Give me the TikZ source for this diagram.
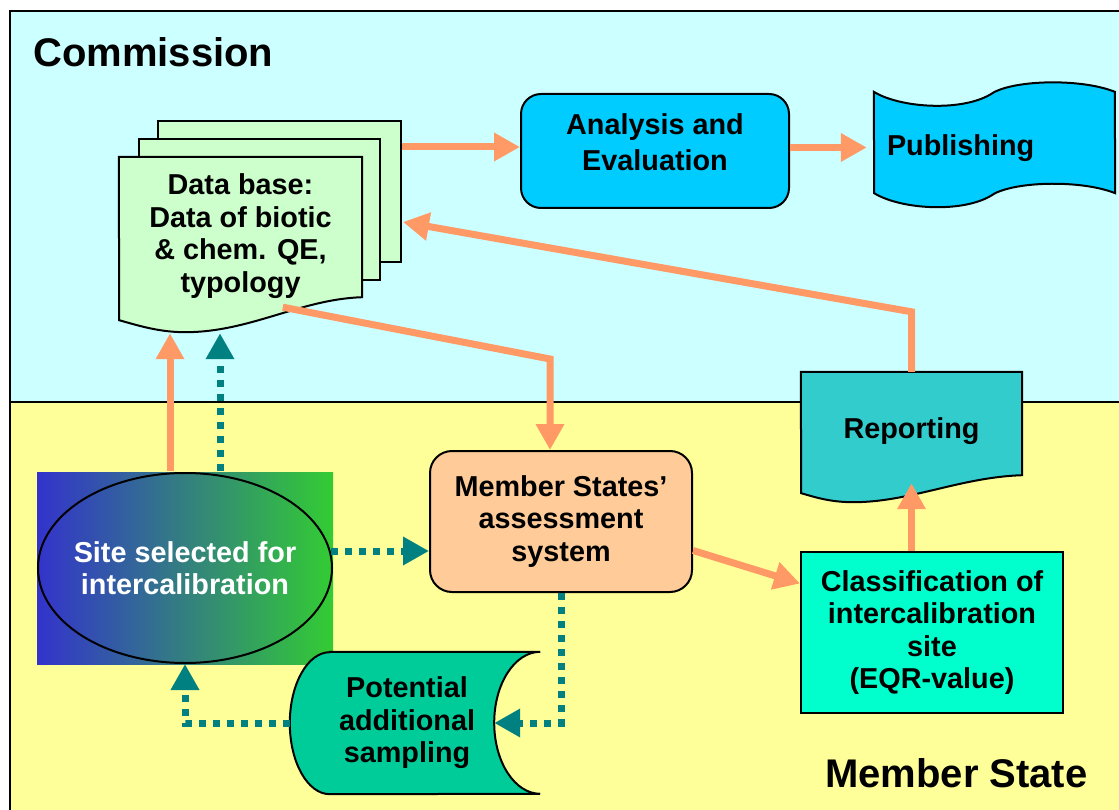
\documentclass[tikz,border=0pt]{standalone}
\usepackage{fontspec}
\setmainfont{Liberation Sans}
\usetikzlibrary{arrows.meta,positioning,calc,shapes.geometric,backgrounds}
\definecolor{commcolor}{RGB}{204,255,255}
\definecolor{mscolor}{RGB}{255,255,153}
\definecolor{dbcolor}{RGB}{204,255,204}
\definecolor{evalcolor}{RGB}{0,204,255}
\definecolor{assesscolor}{RGB}{255,204,153}
\definecolor{reportcolor}{RGB}{51,204,204}
\definecolor{classcolor}{RGB}{0,255,204}
\definecolor{samplecolor}{RGB}{0,204,153}
\definecolor{flowcolor}{RGB}{255,153,102}
\definecolor{dotcolor}{RGB}{0,128,128}
\definecolor{siteblue}{RGB}{51,51,204}
\definecolor{sitegreen}{RGB}{51,204,51}

\begin{document}
\begin{tikzpicture}[
    x=1pt, y=-1pt,
    module/.style={font=\fontsize{28.8}{32.5}\selectfont\bfseries, align=center, inner sep=0pt},
    box/.style={module, draw, line width=2pt},
    sheet/.style={draw, line width=2pt, fill=dbcolor, inner sep=0pt},
    shapeline/.style={draw, line width=2pt},
    arrow/.style={-{Triangle[length=26pt,width=27pt]}, line width=7pt, flowcolor},
    dotarrow/.style={-{Triangle[length=26pt,width=27pt]}, line width=7pt, dotcolor, dash pattern=on 7pt off 7pt},
    region/.style={font=\fontsize{40}{44}\selectfont\bfseries, anchor=base west, inner sep=0pt}
]
\useasboundingbox (0,0) rectangle (1119,810);

% Regions: Commission (top) and Member State (bottom)
\begin{scope}[on background layer]
\fill[commcolor] (10,11) rectangle (1135,402);
\fill[mscolor] (10,402) rectangle (1135,825);
\draw[line width=2.5pt] (10,11) rectangle (1135,825);
\draw[line width=2pt] (10,402) -- (1135,402);
\end{scope}
\node[region] (commission) at (33,67) {Commission};
\node[region] (memberstate) at (825,787) {Member State};

% Row 1: Data base, Analysis, Publishing
\node[module, minimum width=243pt, minimum height=158pt] (database) at (240.5,236) {Data base:\\Data of biotic\\\& chem. QE,\\typology};
\begin{scope}[on background layer]
\node[sheet, minimum width=243pt, minimum height=141pt] (sheet3) at (279.5,191.5) {};
\node[sheet, minimum width=241pt, minimum height=141pt] (sheet2) at (259.5,209.5) {};
\draw[shapeline, fill=dbcolor] (database.north west) -- (database.north east) -- ([yshift=18pt]database.south east)
    .. controls +(-62,2) and +(65,0) .. ++(-177,35) .. controls +(-25,0) and +(21,6) .. ++(-66,-12) -- cycle;
\end{scope}

\node[box, fill=evalcolor, rounded corners=20pt, minimum width=268pt, minimum height=114pt, text depth=18pt] (analysis) at (655,151) {Analysis and\\[4pt]Evaluation};

\node[module, minimum width=241pt, minimum height=101pt, text width=215pt, align=left, text height=27pt, text depth=0pt] (publish) at (994.5,142.5) {Publishing};
\begin{scope}[on background layer]
\draw[shapeline, fill=evalcolor] (publish.north west) .. controls +(26,16) and +(-30,17) .. ++(116,3)
    .. controls +(20,-15) and +(-35,-14) .. ++(125,-3) -- (publish.south east)
    .. controls +(-35,-14) and +(20,-15) .. ++(-125,3) .. controls +(-30,17) and +(26,16) .. ++(-116,-3) -- cycle;
\end{scope}

% Row 2: Site, Member States' system, Reporting
\node[module, ellipse, draw, line width=2pt, inner xsep=-8pt, minimum width=294pt, minimum height=190pt, text=white] (site) at (185,568) {Site selected for\\intercalibration};
\begin{scope}[on background layer]
\shade[left color=siteblue, right color=sitegreen] (site.west |- site.north) rectangle (site.east |- site.south);
\end{scope}

\node[box, fill=assesscolor, rounded corners=22pt, minimum width=262pt, minimum height=141pt] (assess) at (561,521.5) {Member States'\\assessment\\system};

\node[module, minimum width=221pt, minimum height=103pt, text height=29pt, text depth=0pt] (report) at (911.5,423.5) {Reporting};
\begin{scope}[on background layer]
\draw[shapeline, fill=reportcolor] (report.north west) -- (report.north east) -- (report.south east)
    .. controls +(-62,2) and +(57,0) .. ++(-169,27) .. controls +(-23,0) and +(14,4) .. ++(-52,-9) -- cycle;
\end{scope}

% Row 3: Sampling, Classification
\node[module, minimum width=234pt, minimum height=142pt] (sample) at (407,723) {Potential\\additional\\sampling};
\begin{scope}[on background layer]
\draw[shapeline, fill=samplecolor] ($(sample.north west)+(40,0)$) -- ($(sample.north east)+(16,0)$)
    arc[start angle=270, end angle=90, x radius=46, y radius=71]
    -- ($(sample.south west)+(40,0)$)
    arc[start angle=90, end angle=270, x radius=40, y radius=71] -- cycle;
\end{scope}

\node[box, fill=classcolor, minimum width=262pt, minimum height=161pt] (classif) at (932,632.5) {Classification of\\intercalibration\\site\\(EQR-value)};

% Connection points
\coordinate (evalin) at ($(analysis.west)+(0,-4)$);
\coordinate (pubin) at ($(publish.west)+(-7,5)$);
\coordinate (dbin) at ($(sheet3.east)+(1,30.5)$);
\coordinate (dbout) at ($(database.south west)+(164,-8)$);
\coordinate (sitecross) at ($(site.east)+(-2,-17)$);
\coordinate (samplein) at ($(sample.east)+(-30,0)$);

% Main flow
\draw[arrow] (sheet3.east |- evalin) -- (evalin);
\draw[arrow] (analysis.east |- pubin) -- (pubin);
\draw[arrow] (dbout) -- ($(assess.north)+(-11,-91)$) -- ([xshift=-11pt]assess.north);
\draw[arrow] ($(assess.east)+(0,29)$) -- ($(classif.west)+(0,-49)$);
\draw[arrow] (report.south |- classif.north) -- ([yshift=-8pt]report.south);
\draw[arrow] (report.north) -- ++(0,-60) -- (dbin);
\draw[arrow] ($(site.north)+(-15,-1)$) -- ($(site.north |- database.south)+(-15,18)$);

% Dotted flow
\draw[dotarrow] ($(site.north)+(35,-1)$) -- ($(site.north |- database.south)+(35,18)$);
\draw[dotarrow] (sitecross) -- (sitecross -| assess.west);
\draw[dotarrow] (assess.south) |- (samplein);
\draw[dotarrow] (sample.west) -| (site.south);

\end{tikzpicture}
\end{document}
